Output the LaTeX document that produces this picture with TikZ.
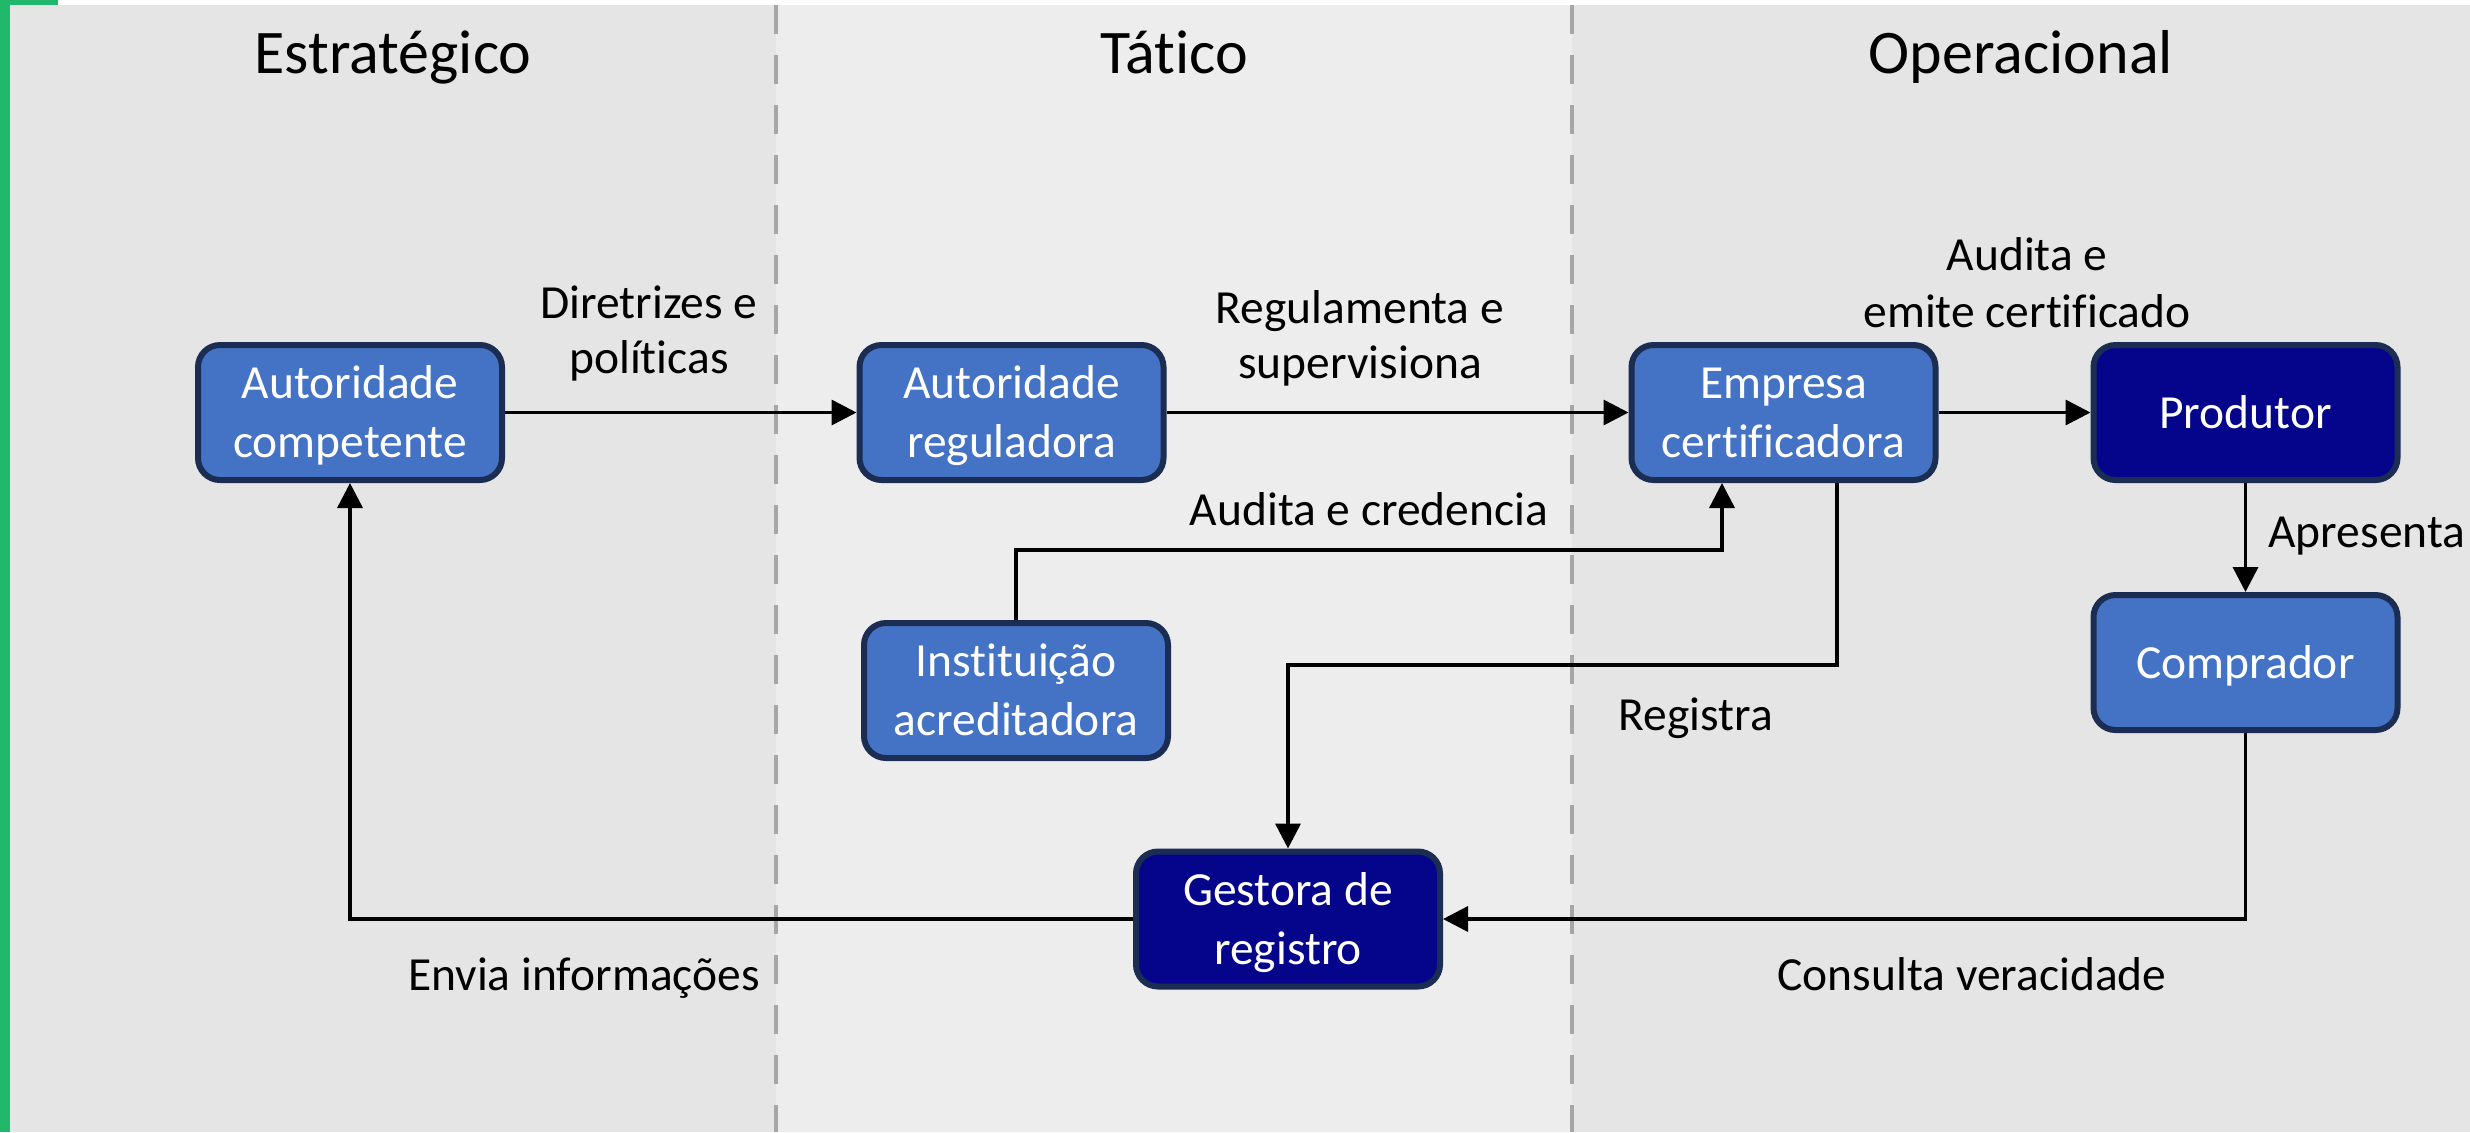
\documentclass[tikz,border=0pt]{standalone}
\usepackage{fontspec}
\setmainfont{Carlito}[Ligatures=NoCommon]
\usetikzlibrary{arrows.meta,calc}
\definecolor{bgA}{HTML}{E5E5E5}
\definecolor{bgB}{HTML}{EDEDED}
\definecolor{greenbar}{HTML}{22B86B}
\definecolor{boxblue}{HTML}{4472C4}
\definecolor{boxdark}{HTML}{05058C}
\definecolor{boxline}{HTML}{1B2D52}
\definecolor{sepgray}{HTML}{A6A6A6}
\newcommand{\myTopStrut}{\rule{0pt}{20.5pt}}
\newcommand{\myBotStrut}{\rule[-5pt]{0pt}{5pt}}
\begin{document}
\begin{tikzpicture}[x=0.5pt,y=-0.5pt,
  box/.style={draw=boxline, line width=3pt, fill=boxblue, rounded corners=11pt,
    minimum width=152pt, minimum height=67.5pt, align=center, text=white,
    font=\fontsize{23.75}{29.5}\selectfont, inner sep=0pt},
  darkbox/.style={box, fill=boxdark},
  lbl/.style={font=\fontsize{23.75}{29.5}\selectfont, anchor=base, inner sep=0pt},
  ttl/.style={font=\fontsize{31}{37}\selectfont, anchor=base, inner sep=0pt},
  arr/.style={draw=black, line width=1.75pt, -{Triangle[length=12.5pt,width=12.5pt]}},
  sepline/.style={draw=sepgray, line width=2pt, dash pattern=on 14.5pt off 10.5pt}]
\useasboundingbox (0,0) rectangle (2470,1132);
% background
\fill[white] (0,0) rectangle (2470,1132);
\fill[bgA] (10,5) rectangle (776,1132);
\fill[bgB] (776,5) rectangle (1572,1132);
\fill[bgA] (1572,5) rectangle (2470,1132);
\fill[greenbar] (0,0) rectangle (10,1132);
\fill[greenbar] (0,0) rectangle (58,5);
\draw[sepline] (776,5) -- (776,1132);
\draw[sepline] (1572,5) -- (1572,1132);
% titles
\node[ttl] (t1) at (393,73) {Estratégico};
\node[ttl] (t2) at (1174,73) {Tático};
\node[ttl] (t3) at (2021,73) {Operacional};
% boxes
\node[box] (ac) at (350,412.5) {\myTopStrut Autoridade\\competente\myBotStrut};
\node[box] (ar) at (1011.5,412.5) {\myTopStrut Autoridade\\reguladora\myBotStrut};
\node[box] (ec) at (1783.5,412.5) {\myTopStrut Empresa\\certificadora\myBotStrut};
\node[darkbox] (pr) at (2245.5,412.5) {\myTopStrut Produtor\myBotStrut};
\node[box] (co) at (2245.5,662.5) {\myTopStrut Comprador\myBotStrut};
\node[box] (ia) at (1016,690.5) {\myTopStrut Instituição\\acreditadora\myBotStrut};
\node[darkbox] (gr) at (1288,919) {\myTopStrut Gestora de\\registro\myBotStrut};
% connectors
\draw[arr] (ac) -- (ar);
\draw[arr] (ar) -- (ec);
\draw[arr] (ec) -- (pr);
\draw[arr] (pr) -- (co);
\coordinate (k1) at (1722,550);
\draw[arr] (ia.north) |- (k1) -- (k1 |- ec.south);
\coordinate (k2) at (1837,665);
\draw[arr] (k2 |- ec.south) -- (k2) -| (gr.north);
\draw[arr] (co.south) |- (gr.east);
\draw[arr] (gr.west) -| (ac.south);
% labels
\node[lbl] (l1a) at (649,318) {Diretrizes e};
\node[lbl] (l1b) at (649,373) {políticas};
\node[lbl] (l2a) at (1360,323) {Regulamenta e};
\node[lbl] (l2b) at (1360,378) {supervisiona};
\node[lbl] (l3a) at (2027,270) {Audita e};
\node[lbl] (l3b) at (2027,327) {emite certificado};
\node[lbl] (l4) at (1369,525) {Audita e credencia};
\node[lbl] (l5) at (1696,730) {Registra};
\node[lbl, anchor=base west] (l6) at (2268,547) {Apresenta};
\node[lbl] (l7) at (584,990) {Envia informações};
\node[lbl] (l8) at (1972,990) {Consulta veracidade};
\end{tikzpicture}
\end{document}
